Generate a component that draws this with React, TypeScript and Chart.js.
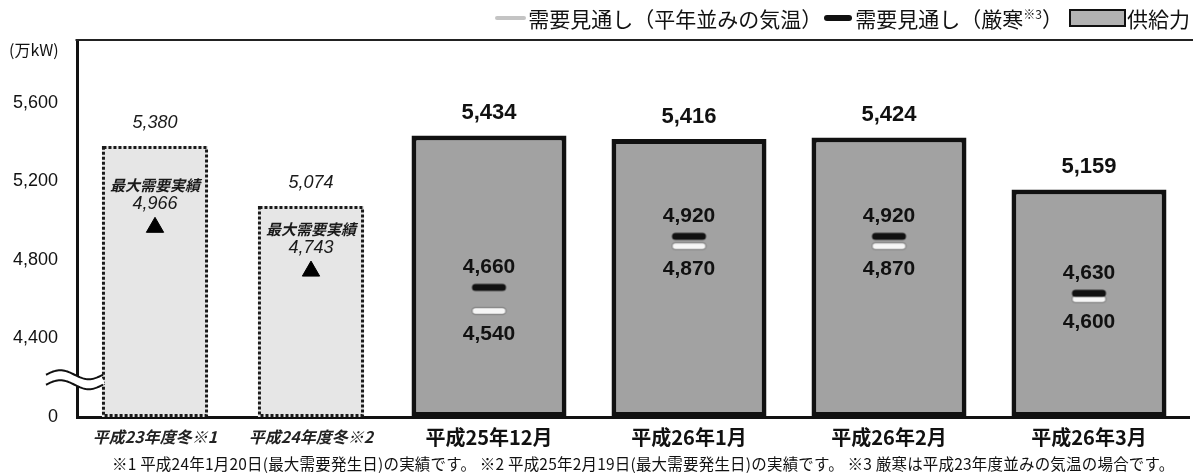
import React, { useEffect, useRef } from 'react';
import { Chart, registerables } from 'chart.js';

Chart.register(...registerables);

// ---------- data ----------
const unitLabel = '(万kW)';
const actualCategories = ['平成23年度冬※1', '平成24年度冬※2'];
const actualSupply = [5380, 5074];
const actualPeak = [4966, 4743];
const actualPeakCaption = '最大需要実績';
const forecastCategories = ['平成25年12月', '平成26年1月', '平成26年2月', '平成26年3月'];
const forecastSupply = [5434, 5416, 5424, 5159];
const severeDemand = [4660, 4920, 4920, 4630];
const normalDemand = [4540, 4870, 4870, 4600];
const yTickValues = [4000, 4400, 4800, 5200, 5600];
const yMin = 4000;
const yMax = 5920;
const breakValue = 4200;
const legendNormal = '需要見通し（平年並みの気温）';
const legendSevere = '需要見通し（厳寒';
const legendSevereMark = '※3';
const legendSevereClose = '）';
const legendSupply = '供給力';
const footnote =
  '※1 平成24年1月20日(最大需要発生日)の実績です。 ※2 平成25年2月19日(最大需要発生日)の実績です。 ※3 厳寒は平成23年度並みの気温の場合です。';

// ---------- helpers ----------
const NUM_FONT = "'Liberation Sans', Arial, 'Noto Sans CJK JP', sans-serif";
const JP_FONT = "'Noto Sans CJK JP', 'Liberation Sans', sans-serif";
const fmt = (v: number) => v.toLocaleString('en-US');

function makePill(fill: string, stroke: string | null): HTMLCanvasElement {
  const c = document.createElement('canvas');
  c.width = 37;
  c.height = 10;
  const ctx = c.getContext('2d')!;
  const x = 1.5, y = 1.5, w = 34, h = 7, r = 3.5;
  ctx.beginPath();
  ctx.moveTo(x + r, y);
  ctx.lineTo(x + w - r, y);
  ctx.arc(x + w - r, y + r, r, -Math.PI / 2, Math.PI / 2);
  ctx.lineTo(x + r, y + h);
  ctx.arc(x + r, y + r, r, Math.PI / 2, (3 * Math.PI) / 2);
  ctx.closePath();
  ctx.fillStyle = fill;
  ctx.fill();
  if (stroke) {
    ctx.strokeStyle = stroke;
    ctx.lineWidth = 1.4;
    ctx.stroke();
  }
  return c;
}

const framePlugin = {
  id: 'frameTop',
  afterDraw(chart: any) {
    const { ctx, chartArea } = chart;
    ctx.save();
    ctx.strokeStyle = '#222';
    ctx.lineWidth = 2;
    ctx.beginPath();
    ctx.moveTo(chartArea.left > 5 ? chartArea.left - 1.5 : 0, chartArea.top);
    ctx.lineTo(chart.width, chartArea.top);
    ctx.stroke();
    ctx.restore();
  },
};

const noSidePadding = (s: any) => {
  s.height = 40;
  s.paddingLeft = 0;
  s.paddingRight = 0;
};

export default function App() {
  const leftRef = useRef<HTMLCanvasElement>(null);
  const rightRef = useRef<HTMLCanvasElement>(null);

  useEffect(() => {
    const blackPill = makePill('#111', null);
    const whitePill = makePill('#f6f6f6', '#8a8a8a');

    const leftPlugins = [
      framePlugin,
      {
        id: 'leftDecor',
        afterDatasetsDraw(chart: any) {
          const { ctx } = chart;
          const barMeta = chart.getDatasetMeta(1);
          const ptMeta = chart.getDatasetMeta(0);
          ctx.save();
          // dotted outlines of the actual-result bars
          barMeta.data.forEach((el: any) => {
            const { x, y, base, width } = el.getProps(['x', 'y', 'base', 'width'], true);
            ctx.strokeStyle = '#1a1a1a';
            ctx.lineWidth = 3;
            ctx.setLineDash([3, 2]);
            ctx.strokeRect(x - width / 2 + 1.5, y + 1.5, width - 3, base - y - 3);
          });
          ctx.setLineDash([]);
          ctx.fillStyle = '#1a1a1a';
          ctx.textAlign = 'center';
          ctx.textBaseline = 'middle';
          barMeta.data.forEach((el: any, i: number) => {
            ctx.font = `italic 18px ${NUM_FONT}`;
            ctx.fillText(fmt(actualSupply[i]), el.x, el.y - 23);
          });
          ptMeta.data.forEach((el: any, i: number) => {
            ctx.font = `italic bold 15px ${JP_FONT}`;
            ctx.fillText(actualPeakCaption, el.x, el.y - 42);
            ctx.font = `italic 18px ${NUM_FONT}`;
            ctx.fillText(fmt(actualPeak[i]), el.x, el.y - 23);
          });
          ctx.restore();
        },
        afterDraw(chart: any) {
          const { ctx } = chart;
          const yc = chart.scales.y.getPixelForValue(breakValue) + 2;
          const x0 = 46, L = 57, A = 4.5;
          const wave = (dy: number) => {
            ctx.beginPath();
            for (let k = 0; k <= 40; k++) {
              const x = x0 + (L * k) / 40;
              const yy = yc + dy - A * Math.sin((2 * Math.PI * k) / 40);
              if (k === 0) ctx.moveTo(x, yy);
              else ctx.lineTo(x, yy);
            }
            ctx.stroke();
          };
          ctx.save();
          ctx.strokeStyle = '#fff';
          ctx.lineWidth = 9;
          wave(0);
          ctx.strokeStyle = '#111';
          ctx.lineWidth = 2;
          wave(-5);
          wave(5);
          ctx.restore();
        },
      },
    ];

    const left = new Chart(leftRef.current!, {
      type: 'bar',
      data: {
        labels: actualCategories,
        datasets: [
          {
            type: 'line',
            label: actualPeakCaption,
            data: actualPeak,
            showLine: false,
            pointStyle: 'triangle',
            pointRadius: 10,
            pointHoverRadius: 10,
            pointBackgroundColor: '#000',
            pointBorderColor: '#000',
            pointBorderWidth: 1,
            order: 0,
          } as any,
          {
            type: 'bar',
            label: '供給力(実績)',
            data: actualSupply,
            base: yMin,
            backgroundColor: '#e6e6e6',
            borderWidth: 0,
            categoryPercentage: 0.68,
            barPercentage: 1,
            order: 1,
          } as any,
        ],
      },
      options: {
        responsive: false,
        animation: false,
        layout: { autoPadding: false, padding: { top: 40, right: 0, bottom: 0, left: 0 } },
        plugins: { legend: { display: false }, tooltip: { enabled: false } },
        scales: {
          x: {
            grid: { display: false, drawTicks: false },
            border: { display: true, color: '#111', width: 3 },
            ticks: {
              font: { family: JP_FONT, size: 16, style: 'italic', weight: 'bold' },
              color: '#222',
              padding: 10,
              maxRotation: 0,
              autoSkip: false,
            },
            afterFit: noSidePadding,
          },
          y: {
            min: yMin,
            max: yMax,
            grid: { display: false, drawTicks: false },
            border: { display: true, color: '#111', width: 3 },
            ticks: {
              includeBounds: false,
              font: { family: NUM_FONT, size: 18 },
              color: '#111',
              padding: 19,
              callback: (v: any) => (Number(v) === yMin ? '0' : fmt(Number(v))),
            },
            afterBuildTicks: (s: any) => {
              s.ticks = yTickValues.map((value) => ({ value }));
            },
            afterFit: (s: any) => {
              s.width = 77;
            },
          },
        },
      } as any,
      plugins: leftPlugins as any,
    });

    const rightPlugins = [
      framePlugin,
      {
        id: 'rightLabels',
        afterDatasetsDraw(chart: any) {
          const { ctx } = chart;
          ctx.save();
          ctx.fillStyle = '#111';
          ctx.textAlign = 'center';
          ctx.textBaseline = 'middle';
          chart.getDatasetMeta(2).data.forEach((el: any, i: number) => {
            ctx.font = `bold 22px ${NUM_FONT}`;
            ctx.fillText(fmt(forecastSupply[i]), el.x, el.y - 22);
          });
          chart.getDatasetMeta(0).data.forEach((el: any, i: number) => {
            ctx.font = `bold 21px ${NUM_FONT}`;
            ctx.fillText(fmt(severeDemand[i]), el.x, el.y - 20);
          });
          chart.getDatasetMeta(1).data.forEach((el: any, i: number) => {
            ctx.font = `bold 21px ${NUM_FONT}`;
            ctx.fillText(fmt(normalDemand[i]), el.x, el.y + 23);
          });
          ctx.restore();
        },
      },
    ];

    const right = new Chart(rightRef.current!, {
      type: 'bar',
      data: {
        labels: forecastCategories,
        datasets: [
          {
            type: 'line',
            label: '需要見通し（厳寒）',
            data: severeDemand,
            showLine: false,
            pointStyle: blackPill,
            pointRadius: 18,
            order: 0,
          } as any,
          {
            type: 'line',
            label: legendNormal,
            data: normalDemand,
            showLine: false,
            pointStyle: whitePill,
            pointRadius: 18,
            order: 0,
          } as any,
          {
            type: 'bar',
            label: legendSupply,
            data: forecastSupply,
            base: yMin,
            backgroundColor: '#a2a2a2',
            borderColor: '#111',
            borderWidth: 5,
            borderSkipped: false,
            categoryPercentage: 0.775,
            barPercentage: 1,
            order: 1,
          } as any,
        ],
      },
      options: {
        responsive: false,
        animation: false,
        layout: { autoPadding: false, padding: { top: 40, right: 4, bottom: 0, left: 0 } },
        plugins: { legend: { display: false }, tooltip: { enabled: false } },
        scales: {
          x: {
            grid: { display: false, drawTicks: false },
            border: { display: true, color: '#111', width: 3 },
            ticks: {
              font: { family: JP_FONT, size: 20, weight: 'bold' },
              color: '#111',
              padding: 8,
              maxRotation: 0,
              autoSkip: false,
            },
            afterFit: noSidePadding,
          },
          y: {
            display: false,
            min: yMin,
            max: yMax,
          },
        },
      } as any,
      plugins: rightPlugins as any,
    });

    return () => {
      left.destroy();
      right.destroy();
    };
  }, []);

  const legendText: React.CSSProperties = {
    fontFamily: JP_FONT,
    fontSize: 21,
    color: '#111',
    whiteSpace: 'nowrap',
  };

  return (
    <div
      style={{
        position: 'absolute',
        left: 0,
        top: 0,
        width: 1193,
        height: 474,
        background: '#fff',
        overflow: 'hidden',
      }}
    >
      <canvas
        ref={leftRef}
        width={389}
        height={457}
        style={{ position: 'absolute', left: 0, top: 0 }}
      />
      <canvas
        ref={rightRef}
        width={804}
        height={457}
        style={{ position: 'absolute', left: 389, top: 0 }}
      />
      <div
        style={{
          position: 'absolute',
          left: 9,
          top: 38,
          fontFamily: JP_FONT,
          fontSize: 16,
          color: '#111',
          lineHeight: '22px',
        }}
      >
        {unitLabel}
      </div>
      <div
        style={{
          position: 'absolute',
          right: 3,
          top: 3,
          height: 30,
          display: 'flex',
          alignItems: 'center',
        }}
      >
        <span
          style={{
            display: 'inline-block',
            width: 31,
            height: 4,
            background: '#c4c4c4',
            borderRadius: 2,
            marginRight: 2,
          }}
        />
        <span style={legendText}>{legendNormal}</span>
        <span
          style={{
            display: 'inline-block',
            width: 28,
            height: 6,
            background: '#111',
            borderRadius: 3,
            marginLeft: 2,
            marginRight: 3,
          }}
        />
        <span style={legendText}>
          {legendSevere}
          <sup style={{ fontSize: 12 }}>{legendSevereMark}</sup>
          {legendSevereClose}
        </span>
        <span
          style={{
            display: 'inline-block',
            width: 53,
            height: 14,
            background: '#b2b2b2',
            border: '2px solid #111',
            marginLeft: 6,
            marginRight: 1,
          }}
        />
        <span style={legendText}>{legendSupply}</span>
      </div>
      <div
        style={{
          position: 'absolute',
          left: 112,
          top: 454,
          fontFamily: JP_FONT,
          fontSize: 15.5,
          letterSpacing: 0.2,
          lineHeight: '18px',
          color: '#111',
          whiteSpace: 'nowrap',
        }}
      >
        {footnote}
      </div>
    </div>
  );
}
